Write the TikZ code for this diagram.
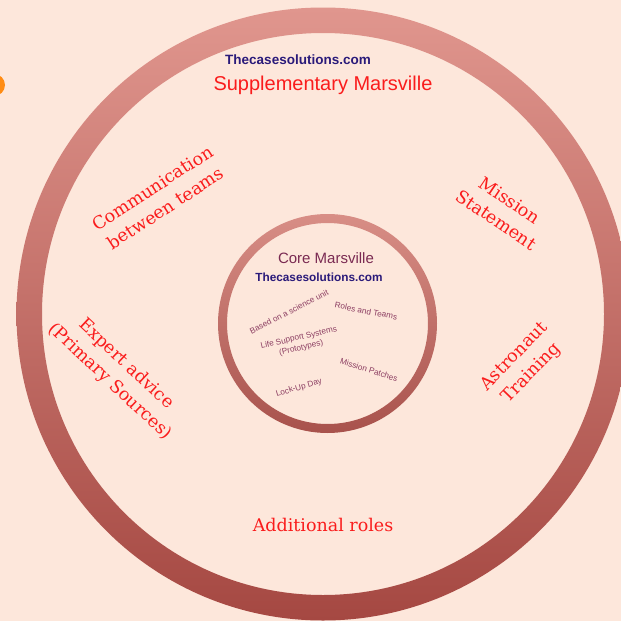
\documentclass[tikz,border=0pt]{standalone}
\usepackage{fontspec}
\setmainfont{Liberation Sans}
\newfontfamily\slabfont{DejaVu Serif}
\definecolor{bgc}{RGB}{253,231,219}
\definecolor{ringtop}{RGB}{224,150,142}
\definecolor{ringbot}{RGB}{165,72,66}
\definecolor{innertop}{RGB}{216,142,134}
\definecolor{innerbot}{RGB}{168,82,76}
\definecolor{redlab}{RGB}{250,28,28}
\definecolor{navy}{RGB}{42,26,122}
\definecolor{coremar}{RGB}{122,42,82}
\definecolor{smallc}{RGB}{140,62,98}
\definecolor{orangec}{RGB}{255,140,20}
\tikzset{
  redlabel/.style={text=redlab, font=\slabfont\fontsize{17.5}{24}\selectfont, align=center, inner sep=0pt},
  smalllabel/.style={text=smallc, font=\fontsize{8.2}{10.5}\selectfont, align=center, inner sep=0pt},
  sitelabel/.style={text=navy, inner sep=0pt},
}
\begin{document}
\begin{tikzpicture}[x=1pt,y=-1pt]
\useasboundingbox (0,0) rectangle (621,621);
\fill[bgc] (0,0) rectangle (621,621);
\fill[orangec] (-6,85) circle[radius=11pt];
% outer ring
\shade[top color=ringtop, bottom color=ringbot, even odd rule]
  (323,314) circle[radius=306.5pt] (323,314) circle[radius=281pt];
% inner ring
\shade[top color=innertop, bottom color=innerbot, even odd rule]
  (327.5,323.5) circle[radius=109.5pt] (327.5,323.5) circle[radius=100.5pt];
% outer labels
\node[sitelabel, font=\bfseries\fontsize{13.5}{16}\selectfont] (site1) at (298,60) {Thecasesolutions.com};
\node[text=redlab, inner sep=0pt, font=\fontsize{20}{24}\selectfont] (supp) at (323,85) {Supplementary Marsville};
\node[redlabel, rotate=33] (comm) at (159,198) {Communication\\between teams};
\node[redlabel, rotate=-34] (mission) at (503,210) {Mission\\Statement};
\node[redlabel, rotate=46] (astro) at (523,365) {Astronaut\\Training};
\node[redlabel, rotate=-43] (expert) at (118,373) {Expert advice\\(Primary Sources)};
\node[redlabel] (addl) at (323,525) {Additional roles};
% inner labels
\node[text=coremar, inner sep=0pt, font=\fontsize{15}{18}\selectfont] (core) at (326,258) {Core Marsville};
\node[sitelabel, font=\bfseries\fontsize{11.8}{14}\selectfont] (site2) at (319,277) {Thecasesolutions.com};
\node[smalllabel, rotate=27] (science) at (289,312) {Based on a science unit};
\node[smalllabel, rotate=-11] (roles) at (366,311) {Roles and Teams};
\node[smalllabel, rotate=13] (life) at (300,343) {Life Support Systems\\(Prototypes)};
\node[smalllabel, rotate=-18] (patches) at (369,370) {Mission Patches};
\node[smalllabel, rotate=16] (lockup) at (299,388) {Lock-Up Day};
\end{tikzpicture}
\end{document}
